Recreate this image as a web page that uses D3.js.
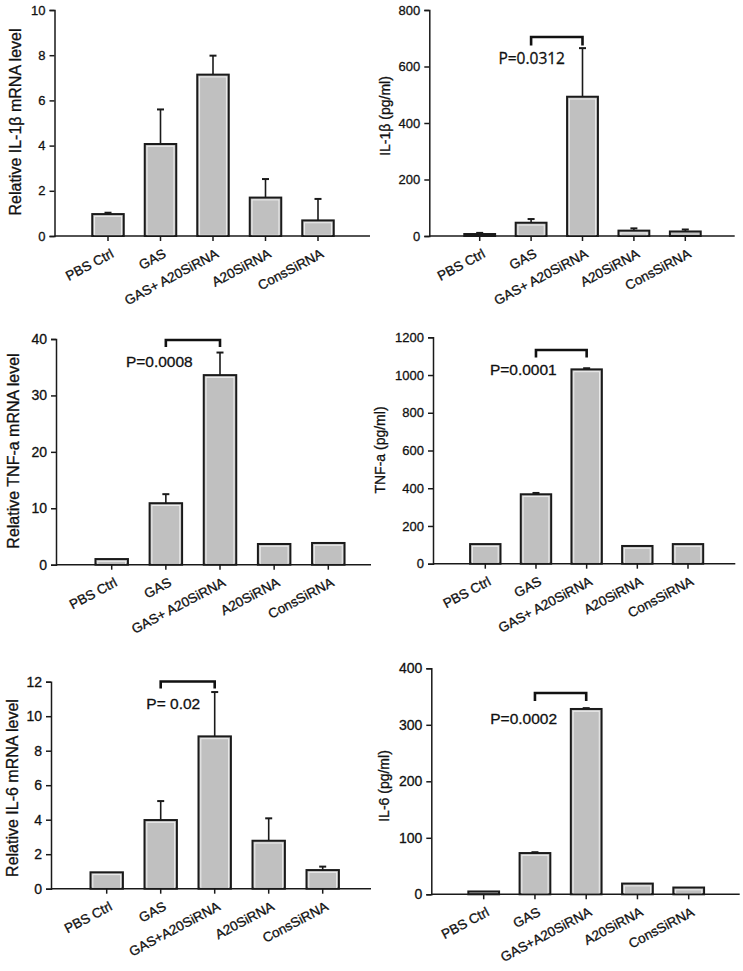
<!DOCTYPE html>
<html>
<head>
<meta charset="utf-8">
<script src="https://cdn.jsdelivr.net/npm/d3@7"></script>
<style>
  html, body { margin: 0; padding: 0; background: #fff; }
  svg { display: block; }
  text { font-family: "Liberation Sans", Arial, sans-serif; fill: #111; stroke: #111; stroke-width: 0.3px; }
</style>
</head>
<body>
<svg id="chart" width="743" height="971"></svg>
<script>
// ---------- DATA ----------
const categoriesTop = ["PBS Ctrl", "GAS", "GAS+ A20SiRNA", "A20SiRNA", "ConsSiRNA"];
const categoriesBottom = ["PBS Ctrl", "GAS", "GAS+A20SiRNA", "A20SiRNA", "ConsSiRNA"];

const il1bMrna      = [0.97, 4.07, 7.14, 1.70, 0.69];
const il1bMrnaErr   = [0.06, 1.53, 0.84, 0.82, 0.95];

const il1bProtein    = [7, 47, 493, 19, 16];
const il1bProteinErr = [4, 13, 172, 8, 7];

const tnfMrna      = [1.0, 10.9, 33.6, 3.67, 3.85];
const tnfMrnaErr   = [0, 1.6, 4.0, 0, 0];

const tnfProtein    = [104, 368, 1030, 94, 104];
const tnfProteinErr = [0, 7, 6, 0, 0];

const il6Mrna      = [0.95, 3.98, 8.83, 2.78, 1.08];
const il6MrnaErr   = [0, 1.1, 2.57, 1.3, 0.2];

const il6Protein    = [5, 73, 328, 19, 12];
const il6ProteinErr = [0, 1.5, 1.5, 0, 0];

const ticksIl1bMrna    = [0, 2, 4, 6, 8, 10];
const ticksIl1bProtein = [0, 200, 400, 600, 800];
const ticksTnfMrna     = [0, 10, 20, 30, 40];
const ticksTnfProtein  = [0, 200, 400, 600, 800, 1000, 1200];
const ticksIl6Mrna     = [0, 2, 4, 6, 8, 10, 12];
const ticksIl6Protein  = [0, 100, 200, 300, 400];

const yLabels = ["Relative IL-1β mRNA level", "IL-1β (pg/ml)",
                 "Relative TNF-a mRNA level", "TNF-a (pg/ml)",
                 "Relative IL-6 mRNA level", "IL-6 (pg/ml)"];
const pLabels = [null, "P=0.0312", "P=0.0008", "P=0.0001", "P= 0.02", "P=0.0002"];

// ---------- LAYOUT ----------
const panels = [
  { cats: categoriesTop, vals: il1bMrna, errs: il1bMrnaErr, ticks: ticksIl1bMrna, yLabel: yLabels[0], p: pLabels[0],
    ax0: 54.5, ax1: 370, top: 10, bottom: 236, c0: 108, c4: 318, tickFs: 13,
    yl: { x: 15, y: 122, fs: 16 } },
  { cats: categoriesTop, vals: il1bProtein, errs: il1bProteinErr, ticks: ticksIl1bProtein, yLabel: yLabels[1], p: pLabels[1],
    ax0: 429.3, ax1: 734.7, top: 10, bottom: 236, c0: 479.7, c4: 685.3, tickFs: 13,
    yl: { x: 385, y: 116, fs: 14 },
    br: { y: 37, leg: 8.5 }, pt: { x: 531.7, y: 63.5, fs: 15.5, font: "'Open Sans', 'Noto Sans', sans-serif" } },
  { cats: categoriesTop, vals: tnfMrna, errs: tnfMrnaErr, ticks: ticksTnfMrna, yLabel: yLabels[2], p: pLabels[2],
    ax0: 56, ax1: 371, top: 339, bottom: 564.7, c0: 111.7, c4: 328.3, tickFs: 14,
    yl: { x: 13.5, y: 451, fs: 16 },
    br: { y: 340, leg: 7 }, pt: { x: 159.3, y: 366.7, fs: 15.5 } },
  { cats: categoriesTop, vals: tnfProtein, errs: tnfProteinErr, ticks: ticksTnfProtein, yLabel: yLabels[3], p: pLabels[3],
    ax0: 433, ax1: 735.3, top: 337.3, bottom: 563.7, c0: 485.3, c4: 688, tickFs: 13,
    yl: { x: 380.5, y: 450, fs: 14 },
    br: { y: 350, leg: 7.5 }, pt: { x: 523.3, y: 375, fs: 15.5 } },
  { cats: categoriesBottom, vals: il6Mrna, errs: il6MrnaErr, ticks: ticksIl6Mrna, yLabel: yLabels[4], p: pLabels[4],
    ax0: 51, ax1: 371, top: 681.7, bottom: 888.7, c0: 106.7, c4: 322.7, tickFs: 14,
    yl: { x: 12, y: 788, fs: 16 },
    br: { y: 681.5, leg: 7 }, pt: { x: 173.3, y: 709.3, fs: 15.5 } },
  { cats: categoriesBottom, vals: il6Protein, errs: il6ProteinErr, ticks: ticksIl6Protein, yLabel: yLabels[5], p: pLabels[5],
    ax0: 431.3, ax1: 739.7, top: 668.3, bottom: 894.3, c0: 483.7, c4: 688.7, tickFs: 14,
    yl: { x: 384, y: 786, fs: 14 },
    br: { y: 693, leg: 8 }, pt: { x: 523.7, y: 724.3, fs: 15.5 } }
];

const svg = d3.select("#chart");
const ink = "#1a1a1a";

panels.forEach((P) => {
  const g = svg.append("g");
  const n = P.cats.length;
  const step = (P.c4 - P.c0) / (n - 1);
  const x = d3.scaleBand().domain(P.cats)
    .range([P.c0 - step / 2, P.c4 + step / 2])
    .paddingInner(0.4).paddingOuter(0.2);
  const yMax = P.ticks[P.ticks.length - 1];
  const y = d3.scaleLinear().domain([0, yMax]).range([P.bottom, P.top]);

  const data = P.cats.map((c, i) => ({ c, v: P.vals[i], e: P.errs[i] }));

  // error bars (upper only)
  const eb = g.append("g");
  data.filter(d => d.e > 0).forEach(d => {
    const cx = x(d.c) + x.bandwidth() / 2;
    eb.append("line").attr("x1", cx).attr("x2", cx)
      .attr("y1", y(d.v)).attr("y2", y(d.v + d.e))
      .attr("stroke", ink).attr("stroke-width", 1.6);
    eb.append("line").attr("x1", cx - 3.5).attr("x2", cx + 3.5)
      .attr("y1", y(d.v + d.e)).attr("y2", y(d.v + d.e))
      .attr("stroke", ink).attr("stroke-width", 2);
  });

  // bars
  g.selectAll("rect.bar").data(data).join("rect")
    .attr("class", "bar")
    .attr("x", d => x(d.c)).attr("width", x.bandwidth())
    .attr("y", d => y(d.v)).attr("height", d => y(0) - y(d.v))
    .attr("fill", "#c0c0c0").attr("stroke", ink).attr("stroke-width", 2);
  // inner highlight
  g.selectAll("rect.hl").data(data.filter(d => y(0) - y(d.v) > 5)).join("rect")
    .attr("class", "hl")
    .attr("x", d => x(d.c) + 2.3).attr("width", x.bandwidth() - 4.6)
    .attr("y", d => y(d.v) + 2.3).attr("height", d => y(0) - y(d.v) - 3)
    .attr("fill", "none").attr("stroke", "#ededed").attr("stroke-width", 1);

  // y axis
  const yAxis = d3.axisLeft(y).tickValues(P.ticks).tickSize(5).tickPadding(4).tickFormat(d3.format("d"));
  const ya = g.append("g").attr("transform", `translate(${P.ax0},0)`).call(yAxis);
  ya.select(".domain").attr("stroke", ink).attr("stroke-width", 1.5);
  ya.selectAll(".tick line").attr("stroke", ink).attr("stroke-width", 1.5);
  ya.selectAll(".tick text").style("font-size", P.tickFs + "px")
    .style("font-family", "'Liberation Sans', Arial, sans-serif").attr("fill", "#111");

  // x axis
  g.append("line").attr("x1", P.ax0).attr("x2", P.ax1)
    .attr("y1", P.bottom).attr("y2", P.bottom)
    .attr("stroke", ink).attr("stroke-width", 1.5);
  const xAxis = d3.axisBottom(x).tickSize(5).tickFormat("");
  const xa = g.append("g").attr("transform", `translate(0,${P.bottom})`).call(xAxis);
  xa.select(".domain").remove();
  xa.selectAll(".tick line").attr("stroke", ink).attr("stroke-width", 1.5);

  // x labels rotated
  P.cats.forEach(c => {
    const cx = x(c) + x.bandwidth() / 2;
    g.append("text")
      .attr("transform", `translate(${cx + 2},${P.bottom + 12}) rotate(-28)`)
      .attr("text-anchor", "end").attr("dy", "0.72em")
      .style("font-size", "13.5px").text(c);
  });

  // y label
  g.append("text")
    .attr("transform", `translate(${P.yl.x},${P.yl.y}) rotate(-90)`)
    .attr("text-anchor", "middle").attr("dy", "0.35em")
    .style("font-size", P.yl.fs + "px").text(P.yLabel);

  // significance bracket
  if (P.p) {
    const xa1 = x(P.cats[1]) + x.bandwidth() / 2;
    const xa2 = x(P.cats[2]) + x.bandwidth() / 2;
    g.append("path")
      .attr("d", `M${xa1},${P.br.y + P.br.leg}V${P.br.y}H${xa2}V${P.br.y + P.br.leg}`)
      .attr("fill", "none").attr("stroke", "#111").attr("stroke-width", 2.6);
    const t = g.append("text").attr("x", P.pt.x).attr("y", P.pt.y)
      .attr("text-anchor", "middle").style("font-size", P.pt.fs + "px").text(P.p);
    if (P.pt.font) t.style("font-family", P.pt.font);
  }
});
</script>
</body>
</html>
